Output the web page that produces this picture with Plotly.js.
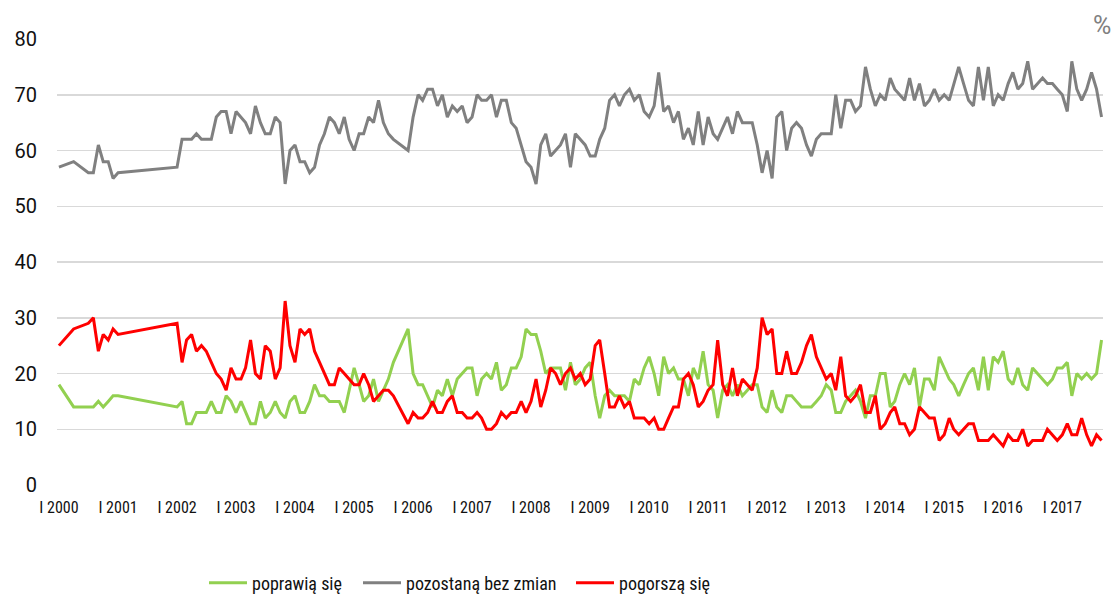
<!DOCTYPE html>
<html>
<head>
<meta charset="utf-8">
<script src="https://cdn.plot.ly/plotly-3.0.1.min.js"></script>
<style>
  html, body { margin: 0; padding: 0; background: #fff; }
  #chart { width: 1118px; height: 596px; }
</style>
</head>
<body>
<div id="chart"></div>
<script>
// Survey months (gaps where no survey point is drawn)
const dates = [
  '2000-01','2000-04','2000-07','2000-08','2000-09','2000-10','2000-11','2000-12',
  '2001-01',
  '2002-01','2002-02','2002-03','2002-04','2002-05','2002-06','2002-07','2002-08','2002-09','2002-10','2002-11','2002-12',
  '2003-01','2003-02','2003-03','2003-04','2003-05','2003-06','2003-07','2003-08','2003-09','2003-10','2003-11','2003-12',
  '2004-01','2004-02','2004-03','2004-04','2004-05','2004-06','2004-07','2004-08','2004-09','2004-10','2004-11','2004-12',
  '2005-01','2005-02','2005-03','2005-04','2005-05','2005-06','2005-07','2005-08','2005-09','2005-12',
  '2006-01','2006-02','2006-03','2006-04','2006-05','2006-06','2006-07','2006-08','2006-09','2006-10','2006-11','2006-12',
  '2007-01','2007-02','2007-03','2007-04','2007-05','2007-06','2007-07','2007-08','2007-09','2007-10','2007-11','2007-12',
  '2008-01','2008-02','2008-03','2008-04','2008-05','2008-06','2008-07','2008-08','2008-09','2008-10','2008-11','2008-12',
  '2009-01','2009-02','2009-03','2009-04','2009-05','2009-06','2009-07','2009-08','2009-09','2009-10','2009-11','2009-12',
  '2010-01','2010-02','2010-03','2010-04','2010-05','2010-06','2010-07','2010-08','2010-09','2010-10','2010-11','2010-12',
  '2011-01','2011-02','2011-03','2011-04','2011-05','2011-06','2011-07','2011-08','2011-09','2011-10','2011-11','2011-12',
  '2012-01','2012-02','2012-03','2012-04','2012-05','2012-06','2012-07','2012-08','2012-09','2012-10','2012-11','2012-12',
  '2013-01','2013-02','2013-03','2013-04','2013-05','2013-06','2013-07','2013-08','2013-09','2013-10','2013-11','2013-12',
  '2014-01','2014-02','2014-03','2014-04','2014-05','2014-06','2014-07','2014-08','2014-09','2014-10','2014-11','2014-12',
  '2015-01','2015-02','2015-03','2015-04','2015-05','2015-06','2015-07','2015-08','2015-09','2015-10','2015-11','2015-12',
  '2016-01','2016-02','2016-03','2016-04','2016-05','2016-06','2016-07','2016-08','2016-09','2016-10','2016-11','2016-12',
  '2017-01','2017-02','2017-03','2017-04','2017-05','2017-06','2017-07','2017-08','2017-09'
];

// "poprawią się" (%)
const poprawia = [
  18,14,14,14,15,14,15,16,
  16,
  14,15,11,11,13,13,13,15,13,13,16,15,
  13,15,13,11,11,15,12,13,15,13,12,15,
  16,13,13,15,18,16,16,15,15,15,13,17,
  21,18,15,16,19,15,17,19,22,28,
  20,18,18,16,14,17,16,19,16,19,20,21,
  21,16,19,20,19,22,17,18,21,21,23,28,
  27,27,24,20,21,21,21,17,22,18,19,21,
  22,16,12,16,17,16,16,16,15,19,18,21,
  23,20,16,23,20,21,19,19,16,21,19,24,
  18,17,12,17,18,16,18,16,17,18,18,14,
  13,17,14,13,16,16,15,14,14,14,15,16,
  18,17,13,13,15,16,17,15,12,16,16,20,
  20,14,15,18,20,18,21,14,19,19,17,23,
  21,19,18,16,18,20,21,17,23,17,23,22,
  24,19,18,21,18,17,21,20,19,18,19,21,
  21,22,16,20,19,20,19,20,26
];

// "pozostaną bez zmian" (%)
const bezZmian = [
  57,58,56,56,61,58,58,55,
  56,
  57,62,62,62,63,62,62,62,66,67,67,63,
  67,66,65,63,68,65,63,63,66,65,54,60,
  61,58,58,56,57,61,63,66,65,63,66,62,
  60,63,63,66,65,69,65,63,62,60,
  66,70,69,71,71,68,70,66,68,67,68,65,
  66,70,69,69,70,66,69,69,65,64,61,58,
  57,54,61,63,59,60,61,63,57,63,62,61,
  59,59,62,64,69,70,68,70,71,69,70,67,
  66,68,74,67,68,65,67,62,64,61,67,61,
  66,63,62,64,66,63,67,65,65,65,61,56,
  60,55,66,67,60,64,65,64,61,59,62,63,
  63,63,70,64,69,69,67,68,75,71,68,70,
  69,73,71,70,69,73,69,72,68,69,71,69,
  70,69,72,75,72,69,68,75,69,75,68,70,
  69,72,74,71,72,76,71,72,73,72,72,71,
  70,67,76,71,69,71,74,71,66
];

// "pogorszą się" (%)
const pogorsza = [
  25,28,29,30,24,27,26,28,
  27,
  29,22,26,27,24,25,24,22,20,19,17,21,
  19,19,21,26,20,19,25,24,19,21,33,25,
  22,28,27,28,24,22,20,18,18,21,20,19,
  18,18,20,18,15,16,17,17,16,11,
  13,12,12,13,15,13,13,15,16,13,13,12,
  12,13,12,10,10,11,13,12,13,13,15,13,
  15,19,14,17,21,20,18,20,21,19,20,18,
  19,25,26,20,14,14,16,14,15,12,12,12,
  11,12,10,10,12,14,14,19,20,18,14,15,
  17,18,26,18,16,21,16,19,18,17,21,30,
  27,28,20,20,24,20,20,22,25,27,23,21,
  19,20,17,23,16,15,16,18,13,13,16,10,
  11,13,14,11,11,9,10,14,13,12,12,8,
  9,12,10,9,10,11,11,8,8,8,9,8,
  7,9,8,8,10,7,8,8,8,10,9,8,
  9,11,9,9,12,9,7,9,8
];

const seriesNames = ['poprawią się', 'pozostaną bez zmian', 'pogorszą się'];
const tickDates = ['2000-01','2001-01','2002-01','2003-01','2004-01','2005-01','2006-01','2007-01','2008-01',
                   '2009-01','2010-01','2011-01','2012-01','2013-01','2014-01','2015-01','2016-01','2017-01'];
const tickLabels = ['I 2000','I 2001','I 2002','I 2003','I 2004','I 2005','I 2006','I 2007','I 2008',
                    'I 2009','I 2010','I 2011','I 2012','I 2013','I 2014','I 2015','I 2016','I 2017'];

const traces = [
  {x: dates, y: poprawia, name: seriesNames[0], type: 'scatter', mode: 'lines',
   line: {color: '#92D050', width: 3}, legend: 'legend'},
  {x: dates, y: bezZmian, name: seriesNames[1], type: 'scatter', mode: 'lines',
   line: {color: '#808080', width: 3}, legend: 'legend2'},
  {x: dates, y: pogorsza, name: seriesNames[2], type: 'scatter', mode: 'lines',
   line: {color: '#FF0000', width: 3}, legend: 'legend3'}
];

const legendFont = {family: 'Roboto Condensed, Roboto, sans-serif', size: 18, color: '#111111'};
function legendAt(px) {
  return {xref: 'container', yref: 'container', x: px / 1118, y: (596 - 583) / 596,
          xanchor: 'left', yanchor: 'middle', orientation: 'h', itemwidth: 38,
          font: legendFont, bgcolor: 'rgba(0,0,0,0)', borderwidth: 0};
}

const layout = {
  width: 1118, height: 596,
  margin: {l: 57, r: 15, t: 39, b: 111},
  paper_bgcolor: '#ffffff', plot_bgcolor: '#ffffff',
  showlegend: true,
  legend: legendAt(204),
  legend2: legendAt(358),
  legend3: legendAt(571),
  xaxis: {
    type: 'date',
    range: ['1999-12-20', '2017-09-10'],
    tickmode: 'array', tickvals: tickDates, ticktext: tickLabels,
    showgrid: false, zeroline: false, showline: false, ticks: '',
    ticklabelstandoff: 11,
    tickfont: {family: 'Roboto Condensed, Roboto, sans-serif', size: 16, color: '#111111'}
  },
  yaxis: {
    range: [0, 80], dtick: 10, tick0: 0,
    showgrid: true, gridcolor: '#D9D9D9', gridwidth: 1.5,
    zeroline: false, showline: false, ticks: '',
    ticklabelstandoff: 19,
    tickfont: {family: 'Roboto, sans-serif', size: 20, color: '#111111'}
  },
  annotations: [{
    xref: 'paper', yref: 'paper', x: 0.9995, y: 1.03, xanchor: 'center', yanchor: 'middle',
    text: '%', showarrow: false,
    font: {family: 'Roboto, sans-serif', size: 25, color: '#808080'}
  }]
};

Plotly.newPlot('chart', traces, layout, {displayModeBar: false, staticPlot: true});
</script>
</body>
</html>
